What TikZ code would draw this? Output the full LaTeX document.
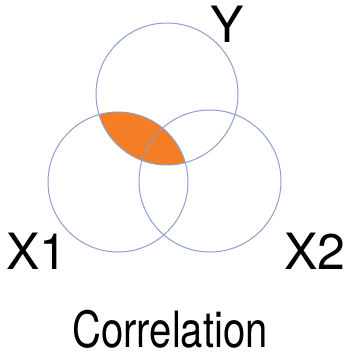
\documentclass[tikz,border=0pt]{standalone}
\usepackage{fontspec}
\setmainfont{TeX Gyre Heros}
\definecolor{cring}{RGB}{140,160,205}
\definecolor{cshade}{RGB}{245,125,35}

\begin{document}
\begin{tikzpicture}[x=1pt,y=-1pt,
  ring/.style={draw=cring,line width=1pt},
  lbl/.style={font=\fontsize{50}{50}\selectfont,inner sep=0pt}]
\useasboundingbox (0,0) rectangle (346,356);
% ---------- circle centres ----------
\coordinate (cy) at (167,94);
\coordinate (cxa) at (118,182);
\coordinate (cxb) at (210,181);
% ---------- shared part of Y and X1 ----------
\begin{scope}
  \clip (cy) circle (71pt);
  \fill[cshade] (cxa) circle (70pt);
\end{scope}
% ---------- circles ----------
\draw[ring] (cy) circle (71pt);
\draw[ring] (cxa) circle (70pt);
\draw[ring] (cxb) circle (71pt);
% ---------- labels ----------
\node[lbl] (ylbl) at (227,24) {Y};
\node[lbl] (xalbl) at (37,251) {X1};
\node[lbl] (xblbl) at (315,251) {X2};
\node[lbl,xscale=0.8] (title) at (170,329) {Correlation};
\end{tikzpicture}
\end{document}
